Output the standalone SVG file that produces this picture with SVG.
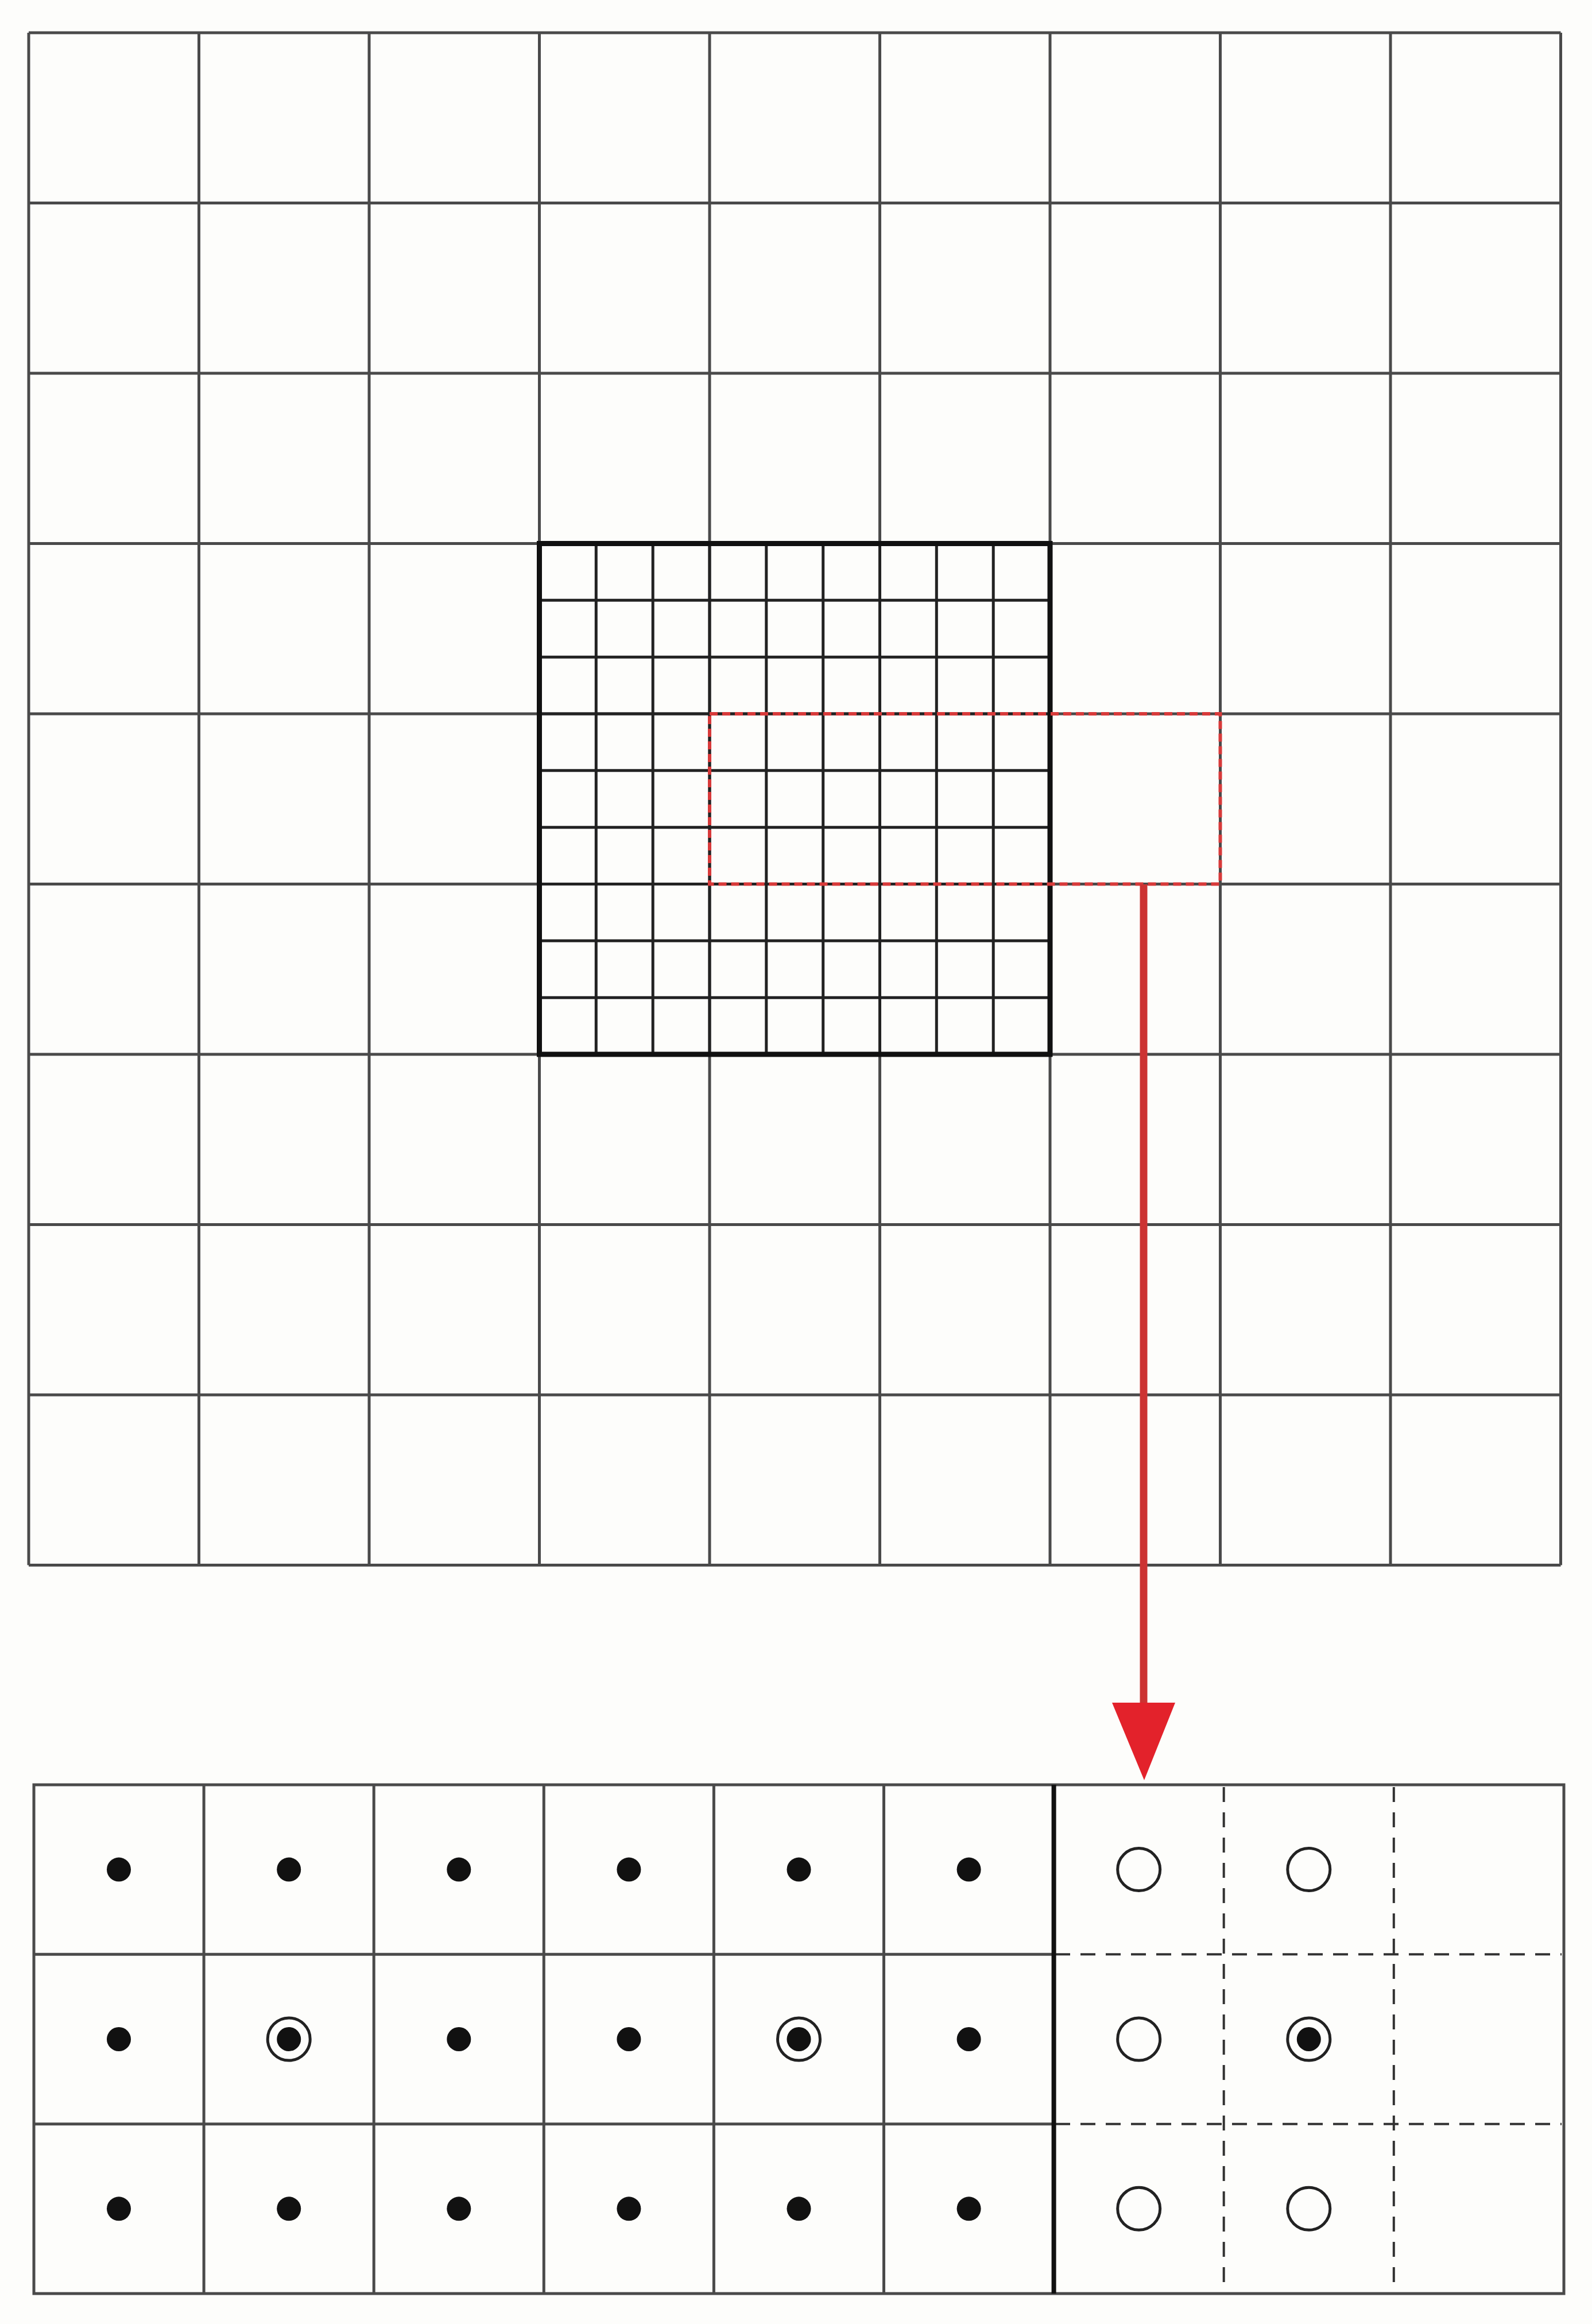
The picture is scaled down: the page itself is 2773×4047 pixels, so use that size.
<svg xmlns="http://www.w3.org/2000/svg" xmlns:xlink="http://www.w3.org/1999/xlink" width="2773" height="4047" viewBox="0 0 2773 4047">
<style>
.bg{fill:#fdfdfb}
.coarse{stroke:#4a4a4a;stroke-width:5;fill:none}
.fine{stroke:#222;stroke-width:5;fill:none}
.thick{stroke:#111;stroke-width:9;fill:none}
.sel{stroke:#d83a3a;stroke-width:6;fill:none;stroke-dasharray:14 8}
.arrow{stroke:#cc3333;stroke-width:13;fill:none}
.head{fill:#e3222b}
.dgrid{stroke:#4a4a4a;stroke-width:5;fill:none}
.dash{stroke:#333;stroke-width:4;fill:none;stroke-dasharray:26 18}
.divider{stroke:#111;stroke-width:8;fill:none}
.dot{fill:#111}
.ring{fill:none;stroke:#222;stroke-width:5}
</style>
<defs>
<circle id="dot" r="21" class="dot"/>
<circle id="open" r="37" class="ring"/>
<g id="ringdot"><circle r="37" class="ring"/><circle r="21" class="dot"/></g>
</defs>
<rect class="bg" x="0" y="0" width="2773" height="4047"/>

<g id="coarse-grid">
<path class="coarse" d="M50 57V2725.5M346.5 57V2725.5M643 57V2725.5M939.5 57V2725.5M1236 57V2725.5M1532.5 57V2725.5M1829 57V2725.5M2125.5 57V2725.5M2422 57V2725.5M2718.5 57V2725.5"/>
<path class="coarse" d="M50 57H2718.5M50 353.5H2718.5M50 650H2718.5M50 946.5H2718.5M50 1243H2718.5M50 1539.5H2718.5M50 1836H2718.5M50 2132.5H2718.5M50 2429H2718.5M50 2725.5H2718.5"/>
</g>

<g id="fine-grid">
<path class="fine" d="M1038.3 946.5V1836M1137.2 946.5V1836M1236 946.5V1836M1334.8 946.5V1836M1433.7 946.5V1836M1532.5 946.5V1836M1631.3 946.5V1836M1730.2 946.5V1836"/>
<path class="fine" d="M939.5 1045.3H1829M939.5 1144.2H1829M939.5 1243H1829M939.5 1341.8H1829M939.5 1440.7H1829M939.5 1539.5H1829M939.5 1638.3H1829M939.5 1737.2H1829"/>
<rect class="thick" x="939.5" y="946.5" width="889.5" height="889.5"/>
</g>

<g id="selection">
<rect class="sel" x="1236" y="1243" width="889.5" height="296.5"/>
</g>

<g id="connectors">
<path class="arrow" d="M1992 1540V2970"/>
<polygon class="head" points="1937,2965 2047,2965 1993,3100"/>
</g>

<g id="detail-grid">
<path class="dgrid" d="M355.1 3108V3994M651.2 3108V3994M947.3 3108V3994M1243.4 3108V3994M1539.5 3108V3994"/>
<path class="dgrid" d="M59 3403.3H1835.6M59 3698.7H1835.6"/>
<path class="dash" d="M2131.7 3112V3990M2427.8 3112V3990M1838 3403.3H2720M1838 3698.7H2720"/>
<rect class="dgrid" x="59" y="3108" width="2665" height="886"/>
<path class="divider" d="M1835.6 3108V3994"/>
</g>

<g id="markers">
<use xlink:href="#dot" x="207" y="3255.6"/>
<use xlink:href="#dot" x="503.2" y="3255.6"/>
<use xlink:href="#dot" x="799.3" y="3255.6"/>
<use xlink:href="#dot" x="1095.4" y="3255.6"/>
<use xlink:href="#dot" x="1391.5" y="3255.6"/>
<use xlink:href="#dot" x="1687.6" y="3255.6"/>
<use xlink:href="#open" x="1983.7" y="3255.6"/>
<use xlink:href="#open" x="2279.8" y="3255.6"/>

<use xlink:href="#dot" x="207" y="3551"/>
<use xlink:href="#ringdot" x="503.2" y="3551"/>
<use xlink:href="#dot" x="799.3" y="3551"/>
<use xlink:href="#dot" x="1095.4" y="3551"/>
<use xlink:href="#ringdot" x="1391.5" y="3551"/>
<use xlink:href="#dot" x="1687.6" y="3551"/>
<use xlink:href="#open" x="1983.7" y="3551"/>
<use xlink:href="#ringdot" x="2279.8" y="3551"/>

<use xlink:href="#dot" x="207" y="3846.3"/>
<use xlink:href="#dot" x="503.2" y="3846.3"/>
<use xlink:href="#dot" x="799.3" y="3846.3"/>
<use xlink:href="#dot" x="1095.4" y="3846.3"/>
<use xlink:href="#dot" x="1391.5" y="3846.3"/>
<use xlink:href="#dot" x="1687.6" y="3846.3"/>
<use xlink:href="#open" x="1983.7" y="3846.3"/>
<use xlink:href="#open" x="2279.8" y="3846.3"/>
</g>
</svg>
